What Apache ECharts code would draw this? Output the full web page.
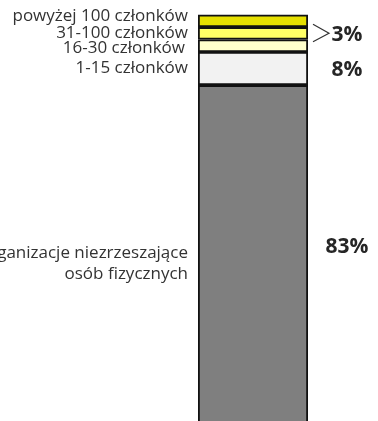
<!DOCTYPE html>
<html>
<head>
<meta charset="utf-8">
<style>
  html, body { margin: 0; padding: 0; background: #ffffff; }
  #chart { width: 378px; height: 421px; }
</style>
<script src="https://cdn.jsdelivr.net/npm/echarts@6/dist/echarts.min.js"></script>
</head>
<body>
<div id="chart"></div>
<script>
// Structure of organisations by number of members (share, %)
const categories = ['ogółem'];
const groupNames = [
  'organizacje niezrzeszające\nosób fizycznych',
  '1-15 członków',
  '16-30 członków',
  '31-100 członków',
  'powyżej 100 członków'
];
const shares = [83, 8, 3, 3, 3];
const shareLabels = ['83%', '8%', '', '3%', ''];

// styling per segment (bottom to top)
const segmentColors = ['#7f7f7f', '#f2f2f2', '#ffffcc', '#ffff66', '#e6e000'];
const leftNudge = [[0, 7], [0, 0], [-3, 2], [0, 0], [0, -5]];
const rightNudge = [[0, -10], [0, 1.5], [0, 0], [0, 1.5], [0, 0]];

const chart = echarts.init(document.getElementById('chart'));

const series = [];
groupNames.forEach((name, i) => {
  series.push({
    name: name,
    type: 'bar',
    stack: 'bars',
    barWidth: 110,
    clip: false,
    data: [shares[i]],
    itemStyle: { color: segmentColors[i], borderColor: '#111111', borderWidth: 1.8 },
    label: {
      show: true,
      position: 'left',
      distance: 10,
      formatter: name,
      align: 'right',
      fontFamily: 'Open Sans',
      fontSize: 17,
      lineHeight: 21,
      color: '#333333',
      offset: leftNudge[i]
    },
    emphasis: { disabled: true },
    silent: true
  });
});
// transparent twin stack carrying the percentage labels on the right
shares.forEach((v, i) => {
  series.push({
    type: 'bar',
    stack: 'pct',
    barWidth: 110,
    barGap: '-100%',
    clip: false,
    data: [v],
    itemStyle: { color: 'rgba(0,0,0,0)' },
    label: {
      show: shareLabels[i] !== '',
      position: 'right',
      distance: 39,
      align: 'center',
      formatter: shareLabels[i],
      fontFamily: 'Open Sans',
      fontWeight: 'bold',
      fontSize: 21,
      color: '#262626',
      offset: rightNudge[i]
    },
    emphasis: { disabled: true },
    silent: true
  });
});

// the column runs past the lower edge of the canvas: the axis starts just above 0
chart.setOption({
  animation: false,
  grid: { left: 198, width: 110, top: 14.7, bottom: 0 },
  xAxis: { type: 'category', data: categories, show: false },
  yAxis: { type: 'value', min: 1.86, max: 100, show: false },
  series: series
});

// bracket ">" gathering the three smallest groups
const topIdx = 3; // '31-100 członków'
const below = shares.slice(0, topIdx).reduce((a, b) => a + b, 0);
const mid = chart.convertToPixel({ xAxisIndex: 0, yAxisIndex: 0 }, [0, below + shares[topIdx] / 2]);
const barRight = 198 + 110;
chart.setOption({
  graphic: [{
    type: 'polyline',
    shape: { points: [[barRight + 5, mid[1] - 9], [barRight + 21, mid[1]], [barRight + 5, mid[1] + 8.5]] },
    style: { stroke: '#333333', lineWidth: 1.2, fill: null }
  }]
});
</script>
</body>
</html>
